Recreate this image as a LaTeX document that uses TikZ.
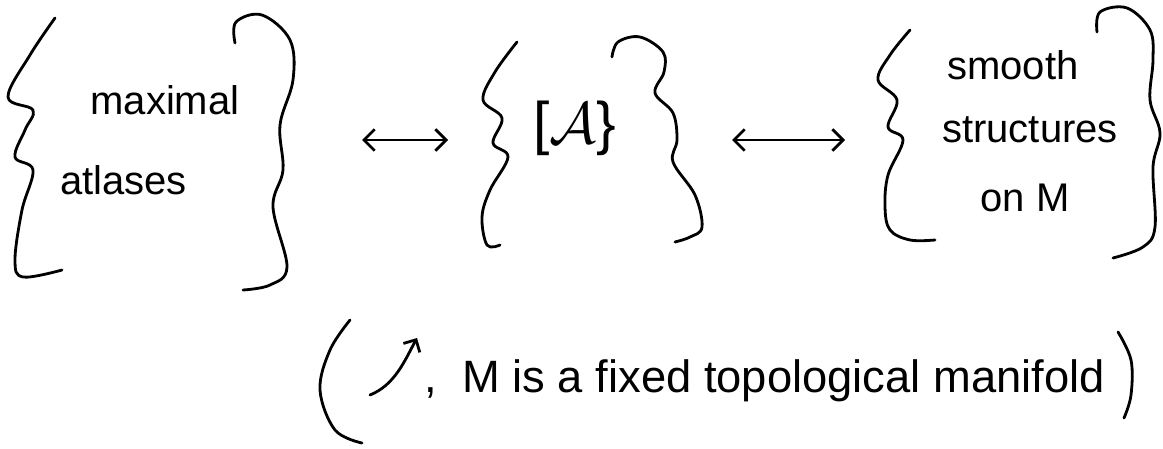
\documentclass[tikz,border=0pt]{standalone}
\usepackage{fix-cm}
\usepackage{fontspec}
\setmainfont{Liberation Sans}
\usetikzlibrary{arrows.meta}
\begin{document}
\begin{tikzpicture}[x=0.75pt,y=-0.75pt,
  ink/.style={line width=2.1pt,line cap=round,line join=round},
  lbl/.style={font=\fontsize{30}{34}\selectfont,inner sep=0pt,align=center},
  arr/.style={ink,arrows={Straight Barb[length=8pt,width=16pt,line width=2.1pt]-Straight Barb[length=8pt,width=16pt,line width=2.1pt]}}]
\useasboundingbox (0,0) rectangle (1163,449);
% left group
\draw[ink] plot[smooth,tension=0.6] coordinates {(55,18) (30,55) (8,97) (33,110) (25,130) (15,157) (33,170) (22,210) (15,260) (23,277) (62,270)};
\draw[ink] plot[smooth,tension=0.6] coordinates {(235,43) (236,22) (262,15) (290,40) (293,80) (280,125) (283,170) (273,207) (287,267) (270,285) (243,290)};
\node[lbl] (maxi) at (165,100) {maximal};
\node[lbl,anchor=west] (atl) at (60,180) {atlases};
% middle group
\draw[ink] plot[smooth,tension=0.6] coordinates {(517,42) (495,72) (483,100) (502,118) (493,143) (508,157) (490,190) (482,217) (487,245) (500,245)};
\draw[ink] plot[smooth,tension=0.6] coordinates {(612,57) (618,42) (640,37) (663,52) (664,72) (655,93) (673,113) (677,140) (673,162) (695,195) (702,227) (690,237) (675,242)};
\node[lbl,font=\fontsize{44}{50}\selectfont] (cls) at (575,128) {[$\mathcal{A}$\}};
% right group
\draw[ink] plot[smooth,tension=0.6] coordinates {(910,30) (890,55) (878,80) (897,100) (888,127) (903,140) (888,175) (885,207) (890,230) (910,240) (935,240)};
\draw[ink] plot[smooth,tension=0.6] coordinates {(1097,32) (1100,12) (1127,8) (1150,30) (1153,60) (1150,100) (1160,133) (1153,167) (1155,227) (1143,247) (1113,258)};
\node[lbl] (smo) at (1013,65) {smooth};
\node[lbl] (str) at (1030,130) {structures};
\node[lbl] (onm) at (1025,198) {on M};
% arrows
\coordinate (a1l) at (362,140);
\coordinate (a1r) at (448,140);
\coordinate (a2l) at (732,140);
\coordinate (a2r) at (845,140);
\draw[arr] (a1l) -- (a1r);
\draw[arr] (a2l) -- (a2r);
% bottom remark
\draw[ink] plot[smooth,tension=0.6] coordinates {(350,320) (330,350) (320,390) (335,430) (362,443)};
\draw[ink] plot[smooth,tension=0.6] coordinates {(1118,332) (1131,360) (1131,395) (1124,418)};
\coordinate (bl) at (370,395);
\coordinate (bt) at (417,338);
\draw[ink,arrows={-Straight Barb[length=7pt,width=14pt,line width=2.1pt]}] (bl) .. controls (395,385) and (405,360) .. (bt);
\node[lbl,font=\fontsize{34}{38}\selectfont,anchor=base west] (cm) at (424,392) {,};
\node[lbl,font=\fontsize{34}{38}\selectfont,anchor=base west] (rem) at (462,392) {M is a fixed topological manifold};
\end{tikzpicture}
\end{document}
